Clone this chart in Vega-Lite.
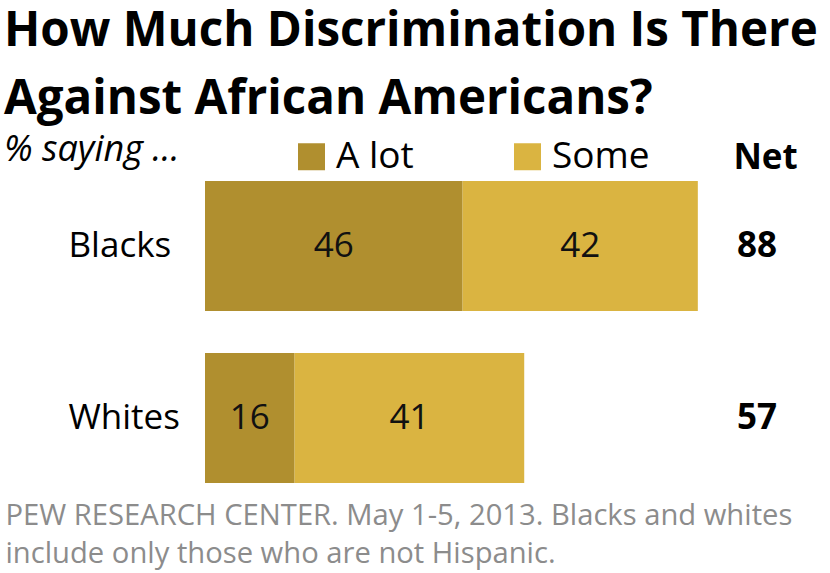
{
  "$schema": "https://vega.github.io/schema/vega-lite/v6.json",
  "autosize": {"type": "none"},
  "width": 625,
  "height": 302,
  "padding": {"left": 205, "top": 181, "right": 0, "bottom": 90},
  "background": "white",
  "config": {"view": {"stroke": null}, "font": "Open Sans"},
  "title": {
    "text": ["How Much Discrimination Is There", "Against African Americans?"],
    "subtitle": "% saying …",
    "anchor": "start",
    "frame": "group",
    "dx": -201,
    "dy": 30,
    "fontSize": 47.5,
    "fontWeight": "bold",
    "lineHeight": 68,
    "color": "black",
    "subtitleFontSize": 36,
    "subtitleFontStyle": "italic",
    "subtitleColor": "black",
    "subtitlePadding": 10,
    "offset": 0
  },
  "datasets": {
    "segments": [
      {"group": "Blacks", "level": "A lot", "value": 46},
      {"group": "Blacks", "level": "Some", "value": 42},
      {"group": "Whites", "level": "A lot", "value": 16},
      {"group": "Whites", "level": "Some", "value": 41}
    ],
    "net": [
      {"group": "Blacks", "net": 88},
      {"group": "Whites", "net": 57}
    ]
  },
  "layer": [
    {
      "data": {"name": "segments"},
      "mark": {"type": "bar"},
      "encoding": {
        "x": {
          "field": "value",
          "type": "quantitative",
          "stack": "zero",
          "scale": {"domain": [0, 111.6], "nice": false, "zero": true},
          "axis": {
            "orient": "bottom",
            "labels": false,
            "ticks": false,
            "domain": false,
            "grid": false,
            "title": ["PEW RESEARCH CENTER. May 1-5, 2013. Blacks and whites", "include only those who are not Hispanic."],
            "titleFontSize": 29.2,
            "titleFontWeight": "normal",
            "titleColor": "#8c8c8c",
            "titleAlign": "left",
            "titleAnchor": "start",
            "titleBaseline": "top",
            "titleX": -200,
            "titleY": 18,
            "titleLineHeight": 38
          }
        },
        "y": {
          "field": "group",
          "type": "nominal",
          "sort": ["Blacks", "Whites"],
          "scale": {"paddingInner": 0.244, "paddingOuter": 0},
          "axis": {
            "title": null,
            "ticks": false,
            "tickSize": 0,
            "domain": false,
            "grid": false,
            "labelAlign": "left",
            "labelPadding": 137,
            "labelFontSize": 35,
            "labelColor": "black",
            "labelBaseline": "middle"
          }
        },
        "color": {
          "field": "level",
          "type": "nominal",
          "scale": {"domain": ["A lot", "Some"], "range": ["#B08F2F", "#DAB441"]},
          "legend": {
            "orient": "none",
            "legendX": 88,
            "legendY": -43,
            "direction": "horizontal",
            "title": null,
            "symbolType": "square",
            "symbolSize": 729,
            "symbolStrokeWidth": 0,
            "symbolOpacity": 1,
            "labelFontSize": 37,
            "labelColor": "black",
            "labelOffset": 6,
            "columnPadding": 95,
            "padding": 0
          }
        }
      }
    },
    {
      "data": {"name": "segments"},
      "transform": [
        {"stack": "value", "groupby": ["group"], "sort": [{"field": "level"}], "as": ["v0", "v1"]},
        {"calculate": "(datum.v0 + datum.v1) / 2", "as": "mid"}
      ],
      "mark": {"type": "text", "fontSize": 35, "color": "#111111", "baseline": "middle", "align": "center"},
      "encoding": {
        "x": {"field": "mid", "type": "quantitative", "axis": null},
        "y": {"field": "group", "type": "nominal", "sort": ["Blacks", "Whites"]},
        "text": {"field": "value", "type": "quantitative"}
      }
    },
    {
      "data": {"name": "net"},
      "mark": {"type": "text", "fontSize": 35, "fontWeight": "bold", "color": "black", "baseline": "middle", "align": "left"},
      "encoding": {
        "x": {
          "datum": 95,
          "type": "quantitative",
          "axis": {
            "orient": "top",
            "values": [100],
            "labelExpr": "'Net'",
            "labelFontSize": 35,
            "labelFontWeight": "bold",
            "labelColor": "black",
            "labelPadding": 6,
            "domain": false,
            "ticks": false,
            "tickSize": 0,
            "grid": false,
            "title": null
          }
        },
        "y": {"field": "group", "type": "nominal", "sort": ["Blacks", "Whites"]},
        "text": {"field": "net", "type": "quantitative"}
      }
    }
  ],
  "resolve": {"axis": {"x": "independent"}}
}
